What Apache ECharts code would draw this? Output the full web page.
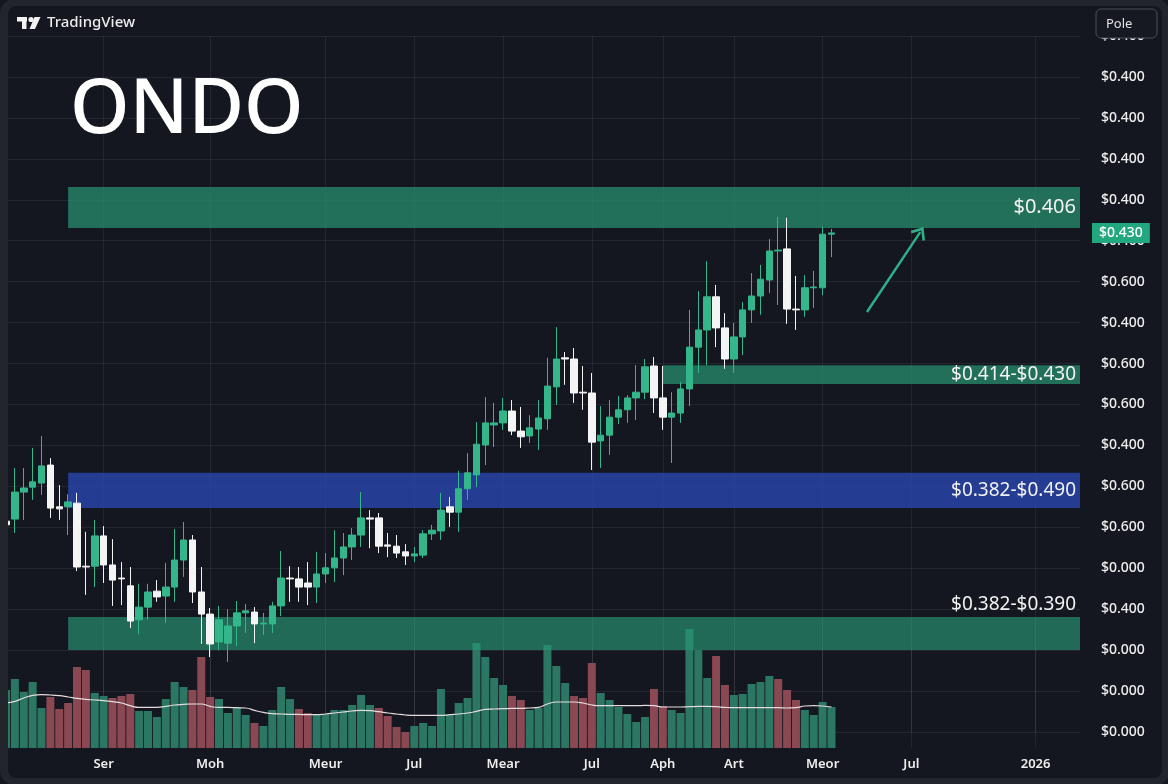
<!DOCTYPE html>
<html>
<head>
<meta charset="utf-8">
<title>ONDO</title>
<script src="https://cdn.jsdelivr.net/npm/echarts@6/dist/echarts.min.js"></script>
<style>
  html, body { margin: 0; padding: 0; background: #141620; }
  #main { width: 1168px; height: 784px; }
</style>
</head>
<body>
<div id="main"></div>
<script>
// price in grid steps (one step = one price-scale line), candles: [open, close, low, high]
const ohlc = [
  [5.15, 5.06, 4.98, 5.25], [5.20, 5.86, 4.86, 6.45], [5.86, 5.96, 5.18, 6.45], [5.98, 6.11, 5.67, 6.94], [6.08, 6.50, 5.79, 7.23],
  [6.52, 5.47, 5.23, 6.69], [5.50, 5.45, 5.18, 6.03], [5.50, 5.62, 4.81, 5.81], [5.59, 4.03, 3.93, 5.84], [4.05, 4.03, 3.35, 4.89],
  [4.05, 4.79, 3.54, 5.18], [4.79, 4.08, 3.64, 5.03], [4.08, 3.71, 3.08, 4.71], [3.76, 3.74, 3.10, 4.15], [3.57, 2.71, 2.54, 4.03],
  [2.74, 3.05, 2.39, 3.62], [3.05, 3.42, 2.74, 3.62], [3.44, 3.30, 3.18, 3.71], [3.32, 3.54, 2.66, 4.13], [3.54, 4.20, 3.18, 4.96],
  [4.20, 4.69, 3.79, 5.13], [4.69, 3.42, 3.15, 4.81], [3.42, 2.88, 2.15, 4.03], [2.88, 2.15, 1.83, 3.03], [2.20, 2.74, 2.00, 3.08],
  [2.17, 2.59, 1.71, 3.00], [2.59, 2.91, 2.10, 3.20], [2.91, 2.96, 2.42, 3.13], [2.93, 2.64, 2.17, 3.05], [2.64, 2.66, 2.37, 2.91],
  [2.64, 3.08, 2.42, 3.18], [3.08, 3.76, 2.83, 4.42], [3.76, 3.74, 3.18, 4.05], [3.74, 3.54, 3.18, 4.03], [3.64, 3.54, 3.10, 4.15],
  [3.54, 3.86, 3.15, 4.40], [3.86, 4.01, 3.64, 4.37], [4.01, 4.25, 3.66, 4.93], [4.25, 4.52, 3.83, 4.86], [4.52, 4.81, 4.20, 4.98],
  [4.81, 5.23, 4.52, 5.86], [5.23, 5.20, 4.49, 5.42], [5.23, 4.54, 4.37, 5.35], [4.57, 4.54, 4.27, 4.86], [4.54, 4.37, 4.25, 4.81],
  [4.40, 4.30, 4.08, 4.59], [4.30, 4.35, 4.15, 4.52], [4.32, 4.84, 4.25, 4.93], [4.84, 4.93, 4.69, 5.06], [4.91, 5.42, 4.69, 5.84],
  [5.50, 5.37, 5.01, 5.74], [5.37, 5.94, 4.89, 6.38], [5.94, 6.33, 5.67, 6.81], [6.28, 7.03, 5.98, 7.57], [7.01, 7.55, 6.52, 8.18],
  [7.50, 7.55, 6.96, 8.04], [7.55, 7.84, 7.38, 8.16], [7.84, 7.35, 7.25, 8.11], [7.35, 7.21, 6.94, 7.94], [7.23, 7.43, 7.06, 7.74],
  [7.40, 7.67, 6.89, 8.11], [7.65, 8.45, 7.38, 9.14], [8.43, 9.11, 7.99, 9.89], [9.14, 9.11, 8.48, 9.28], [9.11, 8.28, 8.04, 9.38],
  [8.30, 8.28, 7.87, 8.94], [8.28, 7.08, 6.40, 8.77], [7.11, 7.25, 6.45, 7.96], [7.25, 7.69, 6.77, 8.11], [7.69, 7.87, 7.52, 8.21],
  [7.87, 8.16, 7.55, 8.23], [8.16, 8.30, 7.62, 8.96], [8.30, 8.92, 8.13, 9.11], [8.94, 8.16, 7.79, 9.16], [8.16, 7.69, 7.38, 8.94],
  [7.69, 7.79, 6.57, 8.30], [7.79, 8.38, 7.55, 8.55], [8.38, 9.40, 7.96, 10.31], [9.40, 9.82, 8.77, 10.77], [9.82, 10.63, 8.96, 11.50],
  [10.63, 9.87, 9.40, 10.92], [9.87, 9.11, 8.87, 10.23], [9.11, 9.65, 8.77, 9.99], [9.65, 10.31, 9.21, 10.50], [10.31, 10.65, 9.99, 11.21],
  [10.65, 11.06, 10.19, 11.41], [11.04, 11.75, 10.72, 12.04], [11.75, 11.77, 10.43, 12.58], [11.80, 10.33, 9.97, 12.56], [10.33, 10.31, 9.82, 11.14],
  [10.31, 10.85, 10.14, 11.16], [10.85, 10.87, 10.36, 11.26], [10.85, 12.16, 10.67, 12.34], [12.16, 12.19, 11.60, 12.29]
];

const volumes = [
  58, 69, 56, 66, 40, 51, 39, 45, 81, 78,
  55, 52, 50, 52, 54, 37, 37, 31, 49, 66,
  61, 58, 91, 51, 49, 35, 40, 33, 25, 22,
  38, 61, 49, 39, 35, 33, 34, 38, 38, 43,
  53, 43, 40, 32, 21, 16, 22, 25, 22, 59,
  33, 45, 50, 105, 91, 70, 63, 52, 48, 38,
  40, 103, 82, 65, 52, 50, 85, 55, 48, 41,
  34, 26, 31, 59, 42, 38, 35, 119, 98, 70,
  92, 63, 53, 54, 64, 66, 72, 69, 58, 48,
  38, 33, 46, 41
];

// 1 = green volume bar, 0 = red
const volumeUp = [
  1, 1, 1, 1, 1, 0, 0, 0, 0, 0,
  1, 1, 0, 0, 0, 1, 1, 1, 1, 1,
  1, 0, 0, 0, 1, 1, 1, 1, 0, 1,
  1, 1, 1, 0, 0, 1, 1, 1, 1, 1,
  1, 1, 0, 0, 0, 0, 1, 1, 1, 1,
  1, 1, 1, 1, 1, 1, 1, 0, 0, 1,
  1, 1, 1, 1, 0, 0, 0, 1, 1, 1,
  1, 1, 1, 0, 0, 1, 1, 1, 1, 1,
  0, 0, 1, 1, 1, 1, 1, 0, 0, 0,
  1, 1, 1, 1
];

const volumeMA = [
  45, 46.6, 50, 52.6, 53.3, 53, 52.3, 51, 49.6, 48.6,
  48, 47.3, 46.3, 45, 42.3, 40.6, 40.6, 40.6, 41.6, 43,
  43.6, 44, 44, 41.6, 40.6, 40.6, 40.3, 40, 37.6, 35.6,
  34.3, 34, 33.6, 33.6, 33.3, 33.3, 34, 35, 36, 37,
  37.6, 37.3, 36.3, 35, 34, 33, 32.6, 32.6, 32.6, 32.6,
  33.3, 34, 35, 36.6, 38.6, 39, 39.3, 39.6, 39.6, 40,
  40.6, 44, 46, 46, 46, 45, 43, 42.3, 42.3, 42.3,
  42.3, 42.3, 42.6, 42.3, 41, 41, 41, 41.3, 41.6, 41.6,
  41.3, 40.6, 40.3, 40.3, 40.3, 40.3, 40.3, 40.3, 40, 40.3,
  42, 42.3, 42, 41
];

// right price scale, from the bottom line (0) to the top line (17)
const yTickLabels = [
  '$0.000', '$0.000', '$0.000', '$0.400', '$0.000', '$0.600', '$0.600', '$0.400', '$0.600',
  '$0.600', '$0.400', '$0.600', '$0.400', '$0.400', '$0.400', '$0.400', '$0.400', '$0.400'
];

// time axis: 122 bar slots, labels at some of them
const slotCount = 122;
const xLabelIdx = [11, 23, 36, 46, 56, 66, 74, 82, 92, 102, 116];
const xLabelText = ['Ser', 'Moh', 'Meur', 'Jul', 'Mear', 'Jul', 'Aph', 'Art', 'Meor', 'Jul', '2026'];

// zones: [label, first slot, low, high]
const zones = [
  ['$0.406', 7, 12.31, 13.31],
  ['$0.414-$0.430', 74, 8.50, 8.96],
  ['$0.382-$0.490', 7, 5.47, 6.33],
  ['$0.382-$0.390', 7, 2.00, 2.81]
];
const zoneColors = ['rgba(40,150,115,0.70)', 'rgba(40,150,115,0.70)', 'rgba(40,70,175,0.80)', 'rgba(40,150,115,0.66)'];

// projection arrow: [slot, price] -> [slot, price]
const arrowFrom = [97, 10.26];
const arrowTo = [103, 12.21];
const lastPriceText = '$0.430';

const categories = Array.from({length: slotCount}, (_, i) => String(i));

const GREEN = '#33b68a';
const WHITE = '#f4f4f4';

function isLabelSlot(i) {
    return xLabelIdx.indexOf(i) >= 0;
}

function buildZones() {
    return zones.map((z, i) => {
        let isBottom = i === zones.length - 1;
        return [{
            xAxis: z[1],
            yAxis: z[2],
            itemStyle: {color: zoneColors[i]},
            label: {
                show: true,
                formatter: z[0],
                position: isBottom ? 'insideTopRight' : 'insideRight',
                distance: 4,
                offset: isBottom ? [0, -26] : [0, 0],
                color: '#f2f2f2',
                fontSize: i === 0 ? 20 : 19,
                fontFamily: 'Noto Sans'
            }
        }, {
            xAxis: slotCount - 1,
            yAxis: z[3]
        }];
    });
}

function render() {
    var myChart = echarts.init(document.getElementById('main'));
    const last = ohlc[ohlc.length - 1];

    const option = {
        animation: false,
        backgroundColor: '#141620',
        grid: [
            {left: 6, right: 88, top: 36, bottom: 52},
            {left: 6, right: 88, top: 620, bottom: 36}
        ],
        xAxis: [{
            type: 'category',
            gridIndex: 0,
            data: categories,
            boundaryGap: false,
            axisLine: {show: false},
            axisTick: {show: false},
            axisLabel: {show: false},
            splitLine: {show: true, interval: isLabelSlot, lineStyle: {color: 'rgba(255,255,255,0.07)'}}
        }, {
            type: 'category',
            gridIndex: 1,
            data: categories,
            boundaryGap: false,
            axisLine: {show: false},
            axisTick: {show: false},
            axisLabel: {
                interval: isLabelSlot,
                formatter: (v, i) => xLabelText[xLabelIdx.indexOf(i)],
                color: '#eeeeee',
                fontSize: 13,
                fontWeight: 600,
                fontFamily: 'Noto Sans',
                margin: 10
            },
            splitLine: {show: true, interval: isLabelSlot, lineStyle: {color: 'rgba(255,255,255,0.07)'}}
        }],
        yAxis: [{
            type: 'value',
            gridIndex: 0,
            position: 'right',
            min: 0,
            max: 17,
            interval: 1,
            axisLine: {show: false},
            axisTick: {show: false},
            axisLabel: {
                formatter: v => yTickLabels[Math.round(v)] || '',
                color: '#eeeeee',
                fontSize: 14,
                fontWeight: 500,
                fontFamily: 'Noto Sans',
                margin: 21
            },
            splitLine: {lineStyle: {color: 'rgba(255,255,255,0.07)'}}
        }, {
            type: 'value',
            gridIndex: 1,
            min: 0,
            max: 128,
            show: false
        }],
        series: [{
            name: 'ONDO',
            type: 'candlestick',
            xAxisIndex: 0,
            yAxisIndex: 0,
            z: 3,
            barWidth: 7,
            data: ohlc,
            itemStyle: {
                color: GREEN,
                color0: WHITE,
                borderColor: GREEN,
                borderColor0: WHITE,
                borderWidth: 1
            },
            markArea: {
                silent: true,
                z: 1.5,
                data: buildZones()
            },
            markLine: {
                silent: true,
                symbol: ['none', 'none'],
                data: [
                    [{
                        coord: arrowFrom,
                        symbol: 'none',
                        lineStyle: {color: '#2fae87', width: 2.5, type: 'solid'},
                        label: {show: false}
                    }, {
                        coord: arrowTo,
                        symbol: 'path://M0,11 L9,0 L18,11 L16,13 L9,4.5 L2,13 Z',
                        symbolSize: [17, 12]
                    }],
                    {
                        yAxis: last[1],
                        symbol: 'none',
                        lineStyle: {color: 'rgba(0,0,0,0)', width: 0},
                        label: {
                            show: true,
                            position: 'end',
                            distance: 12,
                            formatter: lastPriceText,
                            backgroundColor: '#22a87e',
                            color: '#ffffff',
                            padding: [3, 7],
                            fontSize: 14,
                            fontWeight: 500,
                            fontFamily: 'Noto Sans'
                        }
                    }
                ]
            }
        }, {
            name: 'Volume',
            type: 'bar',
            xAxisIndex: 1,
            yAxisIndex: 1,
            z: 1,
            barWidth: 8,
            data: volumes.map((v, i) => ({
                value: v,
                itemStyle: {color: volumeUp[i] ? '#2b7764' : '#8a4853'}
            }))
        }, {
            name: 'Volume MA',
            type: 'line',
            xAxisIndex: 1,
            yAxisIndex: 1,
            z: 1,
            smooth: true,
            showSymbol: false,
            data: volumeMA,
            lineStyle: {color: '#e4dcdc', width: 1.2}
        }],
        graphic: [
            // outer frame of the screenshot
            {type: 'rect', z: 20, silent: true,
             shape: {x: 4, y: 2, width: 1162, height: 780, r: 12},
             style: {fill: 'none', stroke: '#23252d', lineWidth: 8}},
            // TradingView logo
            {type: 'rect', z: 20, shape: {x: 17, y: 17, width: 10, height: 4.5}, style: {fill: '#f2f2f2'}},
            {type: 'rect', z: 20, shape: {x: 22, y: 17, width: 4.5, height: 12}, style: {fill: '#f2f2f2'}},
            {type: 'circle', z: 20, shape: {cx: 31, cy: 19.5, r: 2.6}, style: {fill: '#f2f2f2'}},
            {type: 'polygon', z: 20, shape: {points: [[34.5, 17], [40.5, 17], [35, 29], [29.5, 29]]}, style: {fill: '#f2f2f2'}},
            {type: 'text', z: 20, x: 47, y: 23,
             style: {text: 'TradingView', fill: '#ececec', fontSize: 15, fontWeight: 500,
                     fontFamily: 'Noto Sans', verticalAlign: 'middle'}},
            // symbol name
            {type: 'text', z: 20, x: 70, y: 111,
             style: {text: 'ONDO', fill: '#ffffff', fontSize: 76, fontWeight: 500,
                     fontFamily: 'Noto Sans', verticalAlign: 'middle'}},
            // "Pole" button over the price scale
            {type: 'rect', z: 20, shape: {x: 1096, y: 9, width: 61, height: 29, r: 5},
             style: {fill: '#171922', stroke: '#4b4d57', lineWidth: 1}},
            {type: 'text', z: 21, x: 1106, y: 24,
             style: {text: 'Pole', fill: '#e2e2e2', fontSize: 13, fontFamily: 'Noto Sans', verticalAlign: 'middle'}}
        ]
    };
    myChart.setOption(option);
    window.addEventListener('resize', () => {
        myChart.resize();
    });
}

render();
</script>
</body>
</html>
